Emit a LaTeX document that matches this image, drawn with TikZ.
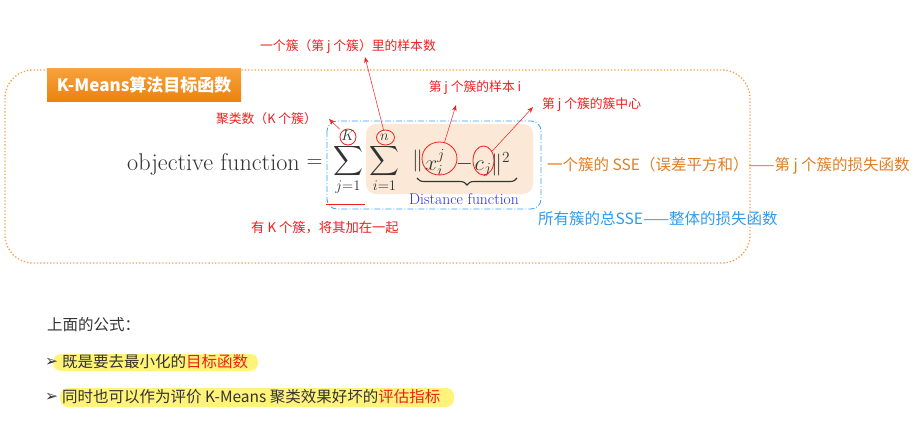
\RequirePackage{fix-cm}
\documentclass[tikz,border=0pt]{standalone}
\usepackage{amsmath}
\usepackage{fontspec}
\newfontfamily\cjk{Noto Sans CJK SC}
\newfontfamily\dejavu{DejaVu Sans}
\usetikzlibrary{arrows.meta,shapes.geometric,calc,decorations.pathreplacing}
\definecolor{fgray}{HTML}{333333}
\definecolor{redc}{HTML}{F21D1D}
\definecolor{orangeframe}{HTML}{F7A04A}
\definecolor{orangetext}{HTML}{E07E22}
\definecolor{bluetext}{HTML}{2E9BF0}
\definecolor{bluebox}{HTML}{3AA0F0}
\definecolor{peach}{HTML}{FBE8D6}
\definecolor{hl}{HTML}{FFF37A}
\definecolor{titletop}{HTML}{F7A23C}
\definecolor{titlebot}{HTML}{EC820F}
\definecolor{dblue}{HTML}{2B2BF0}
\definecolor{bodytext}{HTML}{333333}
\begin{document}
\begin{tikzpicture}[x=1pt,y=-1pt,
  lbl/.style={font=\cjk\fontsize{12.8}{14}\selectfont, text=redc, inner sep=0pt},
  biglbl/.style={font=\cjk\fontsize{15.5}{18}\selectfont, inner sep=0pt, anchor=west},
  body/.style={font=\cjk\fontsize{15.5}{18}\selectfont, text=bodytext, inner sep=0pt, anchor=west},
  mth/.style={inner sep=0pt, text=fgray, font=\fontsize{22}{26}\selectfont},
  sumnode/.style={inner sep=0pt, text=fgray, font=\fontsize{21}{26}\selectfont, anchor=base},
  rcirc/.style={ellipse, draw=redc, line width=0.8pt, inner sep=0pt},
  ra/.style={draw=redc, line width=0.5pt, -{Stealth[length=6pt,width=4.5pt]}},
  hlbox/.style={fill=hl, rounded corners=8pt}]
\useasboundingbox (0,0) rectangle (915,429);
% frame
\draw[orangeframe, line width=1.3pt, dotted, rounded corners=28pt] (5,70) rectangle (750,263);
% title
\node[anchor=north west, minimum width=194pt, minimum height=33pt, inner sep=0pt,
      top color=titletop, bottom color=titlebot, text=white,
      font=\cjk\bfseries\fontsize{17}{20}\selectfont] (title) at (47,68) {K-Means算法目标函数};
% peach and blue boxes
\fill[peach, rounded corners=10pt] (366,124) rectangle (533,194);
\draw[bluebox, line width=0.8pt, dash pattern=on 6pt off 2pt on 1pt off 2pt, rounded corners=10pt] (327,121) rectangle (541,209);
% formula pieces
\node[mth, anchor=base east, font=\fontsize{24.2}{28}\selectfont] (obj) at (300,170) {objective function};
\node[mth] (eq) at (314.5,164) {$=$};
\node[sumnode] (s1) at (348,166.5) {$\displaystyle\sum_{j=1}^{K}$};
\node[sumnode] (s2) at (384.5,166.5) {$\displaystyle\sum_{i=1}^{n}$};
\node[mth] (b1) at (417.5,160.5) {$\|$};
\node[mth, anchor=base west] (xij) at (425,170) {$x_i^j$};
\node[mth] (mi) at (464.5,163.5) {$-$};
\node[mth, anchor=base west] (cj) at (474.5,170) {$c_j$};
\node[mth, anchor=base west] (b2) at (491,170) {$\|^2$};
\coordinate (brL) at (417,178);
\coordinate (brR) at (517,178);
\draw[fgray, line width=1.1pt, decorate, decoration={brace, mirror, amplitude=7pt}] (brL) -- (brR);
\node[inner sep=0pt, text=dblue, font=\fontsize{15.6}{18}\selectfont] (dist) at (464,199) {Distance function};
% circles
\node[rcirc, minimum width=16pt, minimum height=16pt] (cK) at (348,137) {};
\node[rcirc, minimum width=18pt, minimum height=15pt] (cn) at (385.5,137.5) {};
\node[rcirc, minimum width=35pt, minimum height=33pt] (cx) at (439.5,158.5) {};
\node[rcirc, minimum width=21pt, minimum height=29pt] (cc) at (483.5,160.5) {};
\draw[redc, line width=1pt] (326,204) -- (365,204);
% labels
\node[lbl] (ln) at (348,47) {一个簇（第 j 个簇）里的样本数};
\node[lbl, anchor=east] (lK) at (317,119) {聚类数（K 个簇）};
\node[lbl] (lx) at (475,88) {第 j 个簇的样本 i};
\node[lbl, anchor=west] (lc) at (542,105) {第 j 个簇的簇中心};
\node[lbl, font=\cjk\fontsize{13.3}{15}\selectfont] (lsum) at (325,228) {有 K 个簇，将其加在一起};
\coordinate (tn) at (365,57);
\coordinate (tK) at (329,119);
\coordinate (tx) at (456,105);
\coordinate (tc) at (533,107);
\draw[ra] (cn) -- (tn);
\draw[ra, shorten <=3pt] (cK) -- (tK);
\draw[ra] (cx) -- (tx);
\draw[ra] (cc) -- (tc);
\node[biglbl, text=orangetext] (sse) at (547,166) {一个簇的 SSE（误差平方和）——第 j 个簇的损失函数};
\node[biglbl, text=bluetext] (tot) at (538,219) {所有簇的总SSE——整体的损失函数};
% bottom
\fill[hlbox] (53,354) rectangle (258,371);
\fill[hlbox] (60,388) rectangle (454,407);
\node[body] (head) at (47,325) {上面的公式：};
\node[body, font=\dejavu\fontsize{15.5}{17}\selectfont] (bu1) at (45,362) {➢};
\node[body] (t1) at (62,362) {既是要去最小化的\textcolor{redc}{目标函数}};
\node[body, font=\dejavu\fontsize{15.5}{17}\selectfont] (bu2) at (45,397) {➢};
\node[body] (t2) at (62,397) {同时也可以作为评价 K-Means 聚类效果好坏的\textcolor{redc}{评估指标}};
\end{tikzpicture}
\end{document}
